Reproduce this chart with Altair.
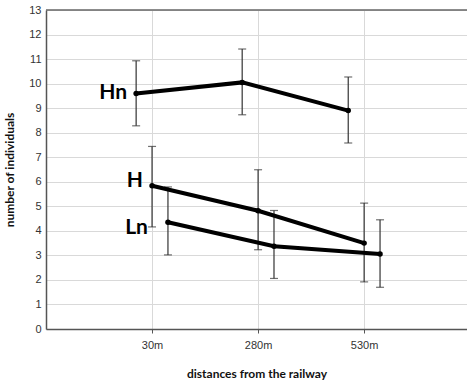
import altair as alt
import pandas as pd

categories = ["30m", "280m", "530m"]
series = ["Hn", "H", "Ln"]
offsets = {"Hn": -0.15, "H": 0.0, "Ln": 0.15}
means = {
    "Hn": [9.6, 10.05, 8.9],
    "H": [5.84, 4.82, 3.5],
    "Ln": [4.35, 3.37, 3.06],
}
upper = {
    "Hn": [10.93, 11.41, 10.27],
    "H": [7.44, 6.49, 5.13],
    "Ln": [5.79, 4.83, 4.45],
}
lower = {
    "Hn": [8.28, 8.73, 7.58],
    "H": [4.16, 3.23, 1.92],
    "Ln": [3.02, 2.06, 1.70],
}
label_dx = {"Hn": -9, "H": -9, "Ln": -20}
label_dy = {"Hn": 0, "H": -5, "Ln": 6}

rows = []
for s in series:
    for i, c in enumerate(categories):
        rows.append({
            "series": s, "cat": c, "x": i + 1 + offsets[s],
            "mean": means[s][i], "hi": upper[s][i], "lo": lower[s][i],
            "first": i == 0,
        })
df = pd.DataFrame(rows)

label_expr = "datum.value == 1 ? '30m' : datum.value == 2 ? '280m' : datum.value == 3 ? '530m' : ''"

XMAX = 3.97
xscale = alt.Scale(domain=[0, XMAX], nice=False, zero=False)
xaxis = alt.Axis(values=[1, 2, 3], labelExpr=label_expr, title="distances from the railway",
                 grid=True, gridColor="#d9d9d9", tickSize=4, tickColor="#555",
                 domainColor="#555", domainWidth=1.5, labelFont="Liberation Sans",
                 labelFontSize=11, labelColor="#333", labelPadding=6,
                 titleFont="Lato", titleFontSize=12, titleFontWeight="bold",
                 titleColor="#111", titlePadding=18)
yscale = alt.Scale(domain=[0, 13], nice=False)
yaxis = alt.Axis(values=list(range(0, 14)), title="number of individuals", grid=True,
                 gridColor="#d9d9d9", tickSize=0, domainColor="#555", domainWidth=1.5,
                 labelFont="Liberation Sans", labelFontSize=11, labelColor="#333", labelPadding=5,
                 labelOverlap=False,
                 titleFont="Lato", titleFontSize=12, titleFontWeight="bold", titleColor="#111",
                 titlePadding=12)


def X():
    return alt.X("x:Q", scale=xscale, axis=xaxis)


def Y(field):
    return alt.Y(field, scale=yscale, axis=yaxis)


base = alt.Chart(df)

top_border = alt.Chart(pd.DataFrame({"a": [0]})).mark_rule(color="#666", strokeWidth=1.5).encode(
    x=alt.datum(0, scale=xscale, axis=xaxis), x2=alt.datum(XMAX),
    y=alt.datum(13, scale=yscale, axis=yaxis))

lines = base.mark_line(color="black", strokeWidth=4).encode(
    x=X(), y=Y("mean:Q"), detail="series:N")
points = base.mark_circle(color="black", size=30, opacity=1).encode(x=X(), y=Y("mean:Q"))
bars = base.mark_rule(color="#333", strokeWidth=1.2).encode(x=X(), y=Y("lo:Q"), y2="hi:Q")
cap_hi = base.mark_tick(color="#333", orient="horizontal", size=8, thickness=1.2).encode(x=X(), y=Y("hi:Q"))
cap_lo = base.mark_tick(color="#333", orient="horizontal", size=8, thickness=1.2).encode(x=X(), y=Y("lo:Q"))

texts = []
for s in series:
    texts.append(
        base.transform_filter((alt.datum.series == s) & (alt.datum.first == True))
        .mark_text(font="Lato", fontWeight="bold", fontSize=21, align="right", baseline="middle",
                   dx=label_dx[s], dy=label_dy[s], color="black")
        .encode(x=X(), y=Y("mean:Q"), text="series:N")
    )

chart = alt.layer(bars, cap_hi, cap_lo, lines, points, *texts, top_border).properties(
    width=421, height=319,
    autosize=alt.AutoSizeParams(type="none"),
    padding={"left": 46, "top": 10, "right": 0, "bottom": 52},
).configure_view(stroke=None).configure(background="white")

chart.save("out.html", embed_options={"renderer": "svg", "actions": False})
